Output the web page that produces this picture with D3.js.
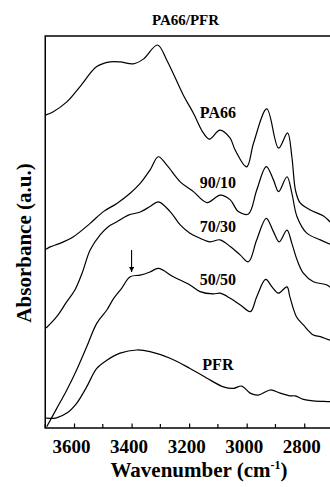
<!DOCTYPE html>
<html lang="en">
<head>
  <meta charset="UTF-8">
  <title>PA66/PFR</title>
  <style>
    * { margin: 0; padding: 0; box-sizing: border-box; }
    body { background: #fff; width: 330px; height: 487px; overflow: hidden; }
    svg text { font-family: "Liberation Serif", "Times New Roman", serif; font-weight: bold; fill: #000; }
  </style>
</head>
<body>
  <svg id="chart" width="330" height="487"></svg>

  <script src="https://d3js.org/d3.v7.min.js"></script>
  <script>
    // spectra: [wavenumber, absorbance (a.u.)]
    const pa66 = [[3700,7.98],[3672,8.07],[3625,8.32],[3579,8.71],[3521,9.22],[3475,9.34],[3440,9.34],
      [3394,9.29],[3359,9.41],[3310,9.77],[3278,9.39],[3220,8.49],[3185,8.03],[3150,7.52],[3129,7.37],
      [3093,7.60],[3058,7.40],[3040,7.09],[3000,6.66],[2976,7.27],[2930,8.14],[2889,7.14],[2858,7.53],
      [2843,6.92],[2830,6.05],[2814,5.74],[2779,5.56],[2733,5.41],[2710,5.26],[2700,5.20]];
    const blend9010 = [[3697,4.56],[3683,4.62],[3649,4.71],[3602,4.88],[3544,5.22],[3498,5.52],[3451,5.73],
      [3405,5.99],[3370,6.24],[3336,6.58],[3307,6.92],[3278,6.71],[3231,6.28],[3185,6.03],[3138,5.75],
      [3092,5.94],[3057,5.82],[3029,5.52],[2994,5.46],[2965,6.07],[2932,6.67],[2907,6.33],[2889,6.03],
      [2860,6.41],[2843,5.99],[2825,5.39],[2791,4.97],[2744,4.80],[2710,4.69],[2700,4.66]];
    const blend7030 = [[3697,2.55],[3677,2.70],[3656,2.88],[3628,3.19],[3597,3.52],[3572,3.95],[3544,4.54],
      [3510,4.92],[3482,5.13],[3451,5.26],[3411,5.43],[3370,5.51],[3336,5.65],[3307,5.77],[3266,5.52],
      [3231,5.18],[3197,4.97],[3162,4.84],[3127,4.75],[3093,4.80],[3057,4.63],[3022,4.41],[2994,4.24],
      [2965,4.80],[2932,5.35],[2907,5.01],[2887,4.75],[2860,5.05],[2843,4.71],[2825,4.29],[2803,3.95],
      [2768,3.73],[2721,3.65],[2700,3.52]];
    const blend5050 = [[3695,0.03],[3660,0.50],[3625,0.97],[3591,1.48],[3556,2.07],[3521,2.67],[3486,3.01],
      [3461,3.32],[3434,3.57],[3405,3.86],[3370,3.90],[3336,3.98],[3307,4.07],[3255,3.86],[3197,3.65],
      [3162,3.48],[3116,3.42],[3092,3.44],[3057,3.31],[3022,3.14],[2987,2.97],[2965,3.35],[2934,3.79],
      [2912,3.60],[2890,3.44],[2860,3.60],[2850,3.35],[2827,2.84],[2803,2.63],[2768,2.37],[2744,2.33],
      [2710,2.24],[2700,2.23]];
    const pfr = [[3697,0.25],[3661,0.26],[3625,0.38],[3591,0.63],[3556,1.05],[3521,1.52],[3486,1.73],
      [3440,1.91],[3382,1.99],[3336,1.95],[3266,1.78],[3197,1.52],[3138,1.27],[3081,1.05],[3046,1.01],
      [3017,1.07],[2988,0.89],[2959,0.84],[2918,0.97],[2884,0.89],[2850,0.82],[2832,0.82],[2803,0.73],
      [2768,0.69],[2710,0.67],[2700,0.66]];

    const series = [pa66, blend9010, blend7030, blend5050, pfr];
    const seriesNames = ['PA66', '90/10', '70/30', '50/50', 'PFR'];
    const labelAbs = [7.92, 6.13, 5.01, 3.65, 1.48];
    const labelWn = 3100;
    const arrowWn = 3400, arrowFrom = 4.54, arrowTo = 3.98;

    const xTicks = [3600, 3400, 3200, 3000, 2800];
    const xMinor = [3700, 3500, 3300, 3100, 2900, 2700];

    const plotL = 45.25, plotR = 333, plotT = 36, plotB = 428;

    const svg = d3.select('#chart');

    const x = d3.scaleLinear().domain([3700, 2700]).range([plotL, plotR]);
    const y = d3.scaleLinear().domain([0, 10]).range([plotB, plotT]);

    svg.append('clipPath').attr('id', 'clip')
      .append('rect').attr('x', plotL).attr('y', plotT).attr('width', plotR - plotL).attr('height', plotB - plotT);

    const line = d3.line()
      .x(d => x(d[0]))
      .y(d => y(d[1]))
      .curve(d3.curveCatmullRom.alpha(0.5));

    svg.append('g').attr('clip-path', 'url(#clip)')
      .selectAll('path')
      .data(series)
      .join('path')
      .attr('d', line)
      .attr('fill', 'none')
      .attr('stroke', '#000')
      .attr('stroke-width', 1.2);

    // frame
    svg.append('rect')
      .attr('x', plotL).attr('y', plotT)
      .attr('width', plotR - plotL).attr('height', plotB - plotT)
      .attr('fill', 'none').attr('stroke', '#000').attr('stroke-width', 1.5);

    // x axis, ticks pointing inside
    const axis = svg.append('g').attr('transform', `translate(0,${plotB})`)
      .call(d3.axisBottom(x).tickValues(xTicks).tickSize(-4.5).tickPadding(0).tickFormat(d3.format('d')));
    axis.select('.domain').remove();
    axis.selectAll('.tick line').attr('stroke', '#000').attr('stroke-width', 1.2);
    axis.selectAll('.tick text')
      .attr('y', 0).attr('dy', 25).attr('dx', -3)
      .attr('font-family', null).attr('font-size', null)
      .style('font-size', '19px');

    svg.append('g')
      .selectAll('line')
      .data(xMinor)
      .join('line')
      .attr('x1', d => x(d)).attr('x2', d => x(d))
      .attr('y1', plotB).attr('y2', plotB - 4)
      .attr('stroke', '#000').attr('stroke-width', 1.2);

    // curve labels
    svg.append('g')
      .selectAll('text')
      .data(seriesNames)
      .join('text')
      .attr('x', x(labelWn))
      .attr('y', (d, i) => y(labelAbs[i]))
      .attr('text-anchor', 'middle')
      .style('font-size', '16px')
      .text(d => d);

    // arrow
    svg.append('defs').append('marker')
      .attr('id', 'head').attr('viewBox', '0 0 8 8')
      .attr('refX', 8).attr('refY', 4)
      .attr('markerWidth', 5).attr('markerHeight', 5)
      .attr('markerUnits', 'userSpaceOnUse')
      .attr('orient', 'auto')
      .append('path').attr('d', 'M0,0L8,4L0,8Z').attr('fill', '#000');
    svg.append('line')
      .attr('x1', x(arrowWn)).attr('x2', x(arrowWn))
      .attr('y1', y(arrowFrom)).attr('y2', y(arrowTo))
      .attr('stroke', '#000').attr('stroke-width', 1.1)
      .attr('marker-end', 'url(#head)');

    // titles
    svg.append('text')
      .attr('x', 185.5).attr('y', 25)
      .attr('text-anchor', 'middle')
      .style('font-size', '15px')
      .text('PA66/PFR');

    const xl = svg.append('text')
      .attr('x', 199).attr('y', 477)
      .attr('text-anchor', 'middle')
      .style('font-size', '21px');
    xl.append('tspan').text('Wavenumber (cm');
    xl.append('tspan').attr('dy', -8).style('font-size', '12px').text('-1');
    xl.append('tspan').attr('dy', 8).text(')');

    svg.append('text')
      .attr('transform', 'translate(31,243) rotate(-90)')
      .attr('text-anchor', 'middle')
      .style('font-size', '21px')
      .text('Absorbance (a.u.)');
  </script>
</body>
</html>
